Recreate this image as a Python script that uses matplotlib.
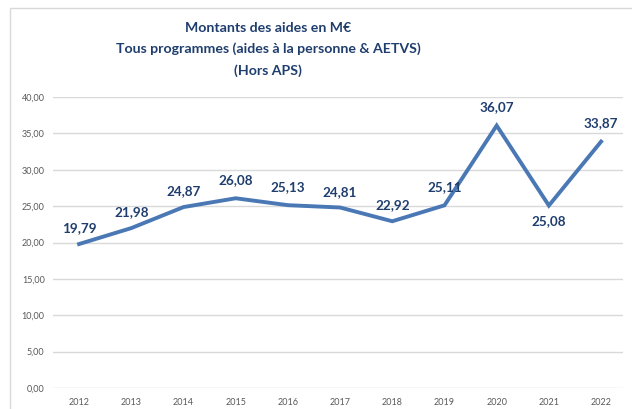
import matplotlib.pyplot as plt
from matplotlib.patches import Rectangle

years = [2012, 2013, 2014, 2015, 2016, 2017, 2018, 2019, 2020, 2021, 2022]
montants = [19.79, 21.98, 24.87, 26.08, 25.13, 24.81, 22.92, 25.11, 36.07, 25.08, 33.87]
yticks = [0, 5, 10, 15, 20, 25, 30, 35, 40]

plt.rcParams['font.family'] = ['Lato', 'DejaVu Sans']

line_col = '#4a78b5'
text_col = '#1f3e6e'

fig = plt.figure(figsize=(6.32, 4.09), dpi=100)
ax = fig.add_axes([53 / 632, 21 / 409, 570 / 632, 291 / 409])

# chart frame (light grey, cut off on the right/bottom)
fig.patches.append(Rectangle((10 / 632, -0.1), 1.2, (409 - 8) / 409 + 0.1,
                             transform=fig.transFigure, fill=False,
                             edgecolor='#d9d9d9', lw=1))

ax.plot(years, montants, color=line_col, lw=2.8, solid_joinstyle='miter')

for yr, v in zip(years, montants):
    txt = f"{v:.2f}".replace('.', ',')
    if yr == 2021:
        ax.annotate(txt, (yr, v), xytext=(0, -7), textcoords='offset points',
                    ha='center', va='top', fontsize=9.7, fontweight='bold', color=text_col)
    else:
        off = 7 if v < 25 else 9
        ax.annotate(txt, (yr, v), xytext=(0, off), textcoords='offset points',
                    ha='center', va='bottom', fontsize=9.7, fontweight='bold', color=text_col)

ax.set_xlim(2011.5, 2022.42)
ax.set_ylim(0, 40)
ax.set_yticks(yticks)
ax.set_yticklabels([f"{t:.2f}".replace('.', ',') for t in yticks])
ax.set_xticks(years)
ax.set_xticklabels([str(y) for y in years])
ax.tick_params(axis='both', length=0, labelsize=6.5, labelcolor='#595959')
ax.tick_params(axis='y', pad=6)
ax.tick_params(axis='x', pad=7)
ax.grid(axis='y', color='#d9d9d9', lw=1)
ax.set_axisbelow(True)
for s in ax.spines.values():
    s.set_visible(False)

fig.text(268 / 632, 1 - 28 / 409, "Montants des aides en M€", ha='center', va='center',
         fontsize=10.2, fontweight='bold', color=text_col)
fig.text(268 / 632, 1 - 49 / 409, "Tous programmes (aides à la personne & AETVS)", ha='center',
         va='center', fontsize=10.2, fontweight='bold', color=text_col)
fig.text(268 / 632, 1 - 71 / 409, "(Hors APS)", ha='center', va='center',
         fontsize=10.2, fontweight='bold', color=text_col)

fig.savefig('out.png', dpi=100)
